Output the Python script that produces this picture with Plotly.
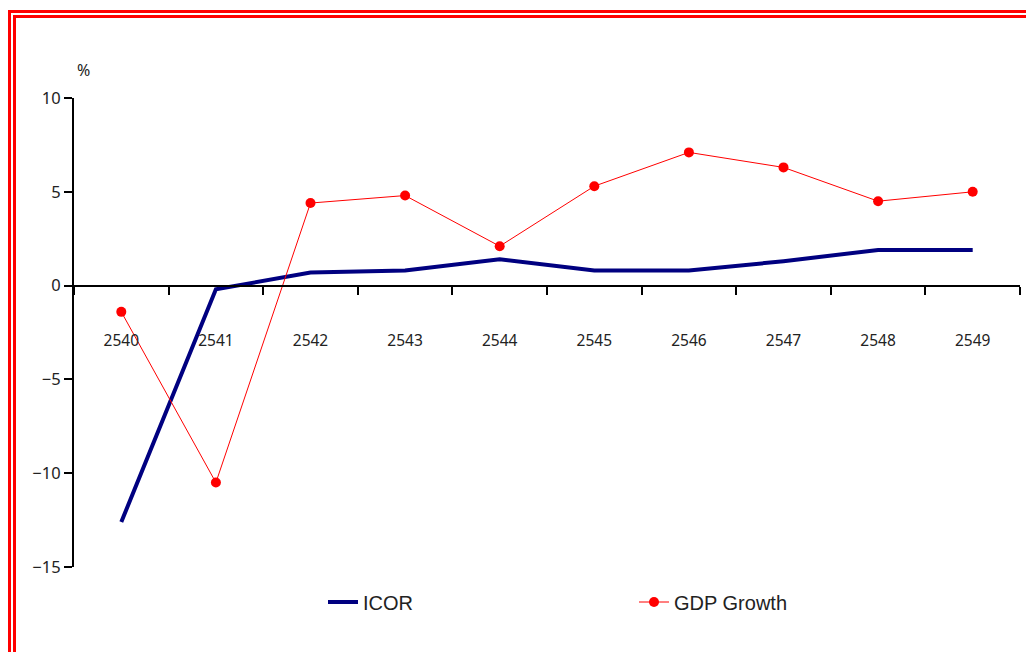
import plotly.graph_objects as go

# Fiscal years (Thai Buddhist calendar)
years = ["2540", "2541", "2542", "2543", "2544", "2545", "2546", "2547", "2548", "2549"]
icor = [-12.6, -0.2, 0.7, 0.8, 1.4, 0.8, 0.8, 1.3, 1.9, 1.9]
gdp_growth = [-1.4, -10.5, 4.4, 4.8, 2.1, 5.3, 7.1, 6.3, 4.5, 5.0]
y_ticks = [-15, -10, -5, 0, 5, 10]

W, H = 1026, 652
L, R, T, B = 74, 6, 98, 85
PW, PH = W - L - R, H - T - B


def px(x):
    return (x - L) / PW


def py(y):
    return (H - B - y) / PH


fig = go.Figure()
fig.add_trace(go.Scatter(
    x=years, y=icor, name="ICOR", mode="lines",
    line=dict(color="#000080", width=4),
))
fig.add_trace(go.Scatter(
    x=years, y=gdp_growth, name="GDP Growth", mode="lines+markers",
    line=dict(color="#ff0000", width=1),
    marker=dict(color="#ff0000", size=10),
))

# Double red frame along the top and left edges
frame = []
for (xv, yh) in [(9.5, 11.5), (14.5, 16.5)]:
    frame.append(dict(type="line", xref="paper", yref="paper",
                      x0=px(xv), x1=px(xv), y0=py(yh), y1=py(H + 5),
                      line=dict(color="#ff0000", width=3)))
    frame.append(dict(type="line", xref="paper", yref="paper",
                      x0=px(xv - 1.5), x1=px(W + 5), y0=py(yh), y1=py(yh),
                      line=dict(color="#ff0000", width=3)))

fig.update_layout(
    width=W, height=H,
    margin=dict(l=L, r=R, t=T, b=B, pad=0),
    paper_bgcolor="white", plot_bgcolor="white",
    font=dict(family="Noto Sans", size=16, color="#222222"),
    showlegend=True,
    legend=dict(
        orientation="h", x=px(323), y=py(602), xanchor="left", yanchor="middle",
        font=dict(family="Liberation Sans", size=20, color="#222222"),
        entrywidth=266, entrywidthmode="pixels",
        bgcolor="rgba(0,0,0,0)",
    ),
    shapes=frame,
    annotations=[dict(text="%", xref="paper", yref="paper", x=px(83), y=py(70),
                      xanchor="center", yanchor="middle",
                      showarrow=False, font=dict(size=16, color="#222222"))],
)
fig.update_xaxes(
    type="category", range=[-0.5, 9.5],
    anchor="free", position=0.6,
    showline=True, linecolor="black", linewidth=2,
    ticks="outside", ticklen=8, tickwidth=2, tickcolor="black",
    tickson="boundaries", ticklabelstandoff=41,
    showgrid=False, zeroline=False,
    tickfont=dict(size=15.5),
)
fig.update_yaxes(
    range=[-15, 10], tickvals=y_ticks,
    ticktext=[("\u2212" + str(abs(v))) if v < 0 else str(v) for v in y_ticks],
    showline=True, linecolor="black", linewidth=2,
    ticks="outside", ticklen=8, tickwidth=2, tickcolor="black",
    showgrid=False, zeroline=False,
    tickfont=dict(size=16.5),
)

fig.write_html("out.html")
